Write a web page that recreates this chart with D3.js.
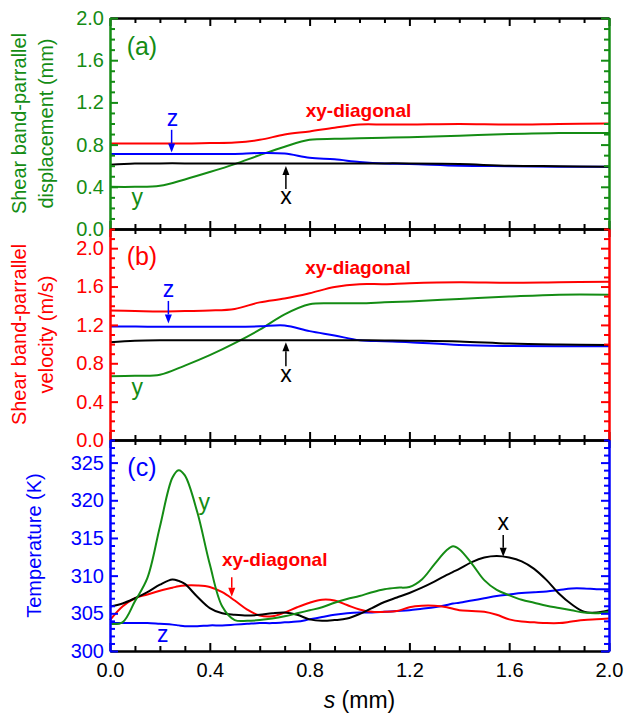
<!DOCTYPE html>
<html>
<head>
<meta charset="utf-8">
<script src="https://cdn.jsdelivr.net/npm/d3@7"></script>
<style>
  body { margin: 0; background: #fff; }
  svg { font-family: 'Liberation Sans', Arial, sans-serif; display: block; }
</style>
</head>
<body>
<div id="chart"></div>
<script>
// -------------------------------------------------------------------------
// Data

// s positions for panels (a) and (b)
const sAB = [0, 0.1, 0.2, 0.3, 0.4, 0.5, 0.6, 0.7, 0.8, 0.9, 1.0, 1.1, 1.2, 1.4, 1.6, 1.8, 2.0];

// (a) shear band-parallel displacement (mm)
const dispX  = [0.61, 0.62, 0.622, 0.622, 0.622, 0.622, 0.622, 0.622, 0.622, 0.622, 0.622, 0.622, 0.622, 0.615, 0.60, 0.595, 0.59];
const dispY  = [0.40, 0.40, 0.41, 0.47, 0.54, 0.615, 0.70, 0.78, 0.845, 0.855, 0.86, 0.865, 0.87, 0.885, 0.90, 0.91, 0.91];
const dispZ  = [0.712, 0.712, 0.712, 0.712, 0.712, 0.712, 0.72, 0.715, 0.675, 0.66, 0.635, 0.62, 0.617, 0.60, 0.595, 0.59, 0.59];
const dispXY = [0.81, 0.81, 0.81, 0.81, 0.815, 0.82, 0.845, 0.895, 0.925, 0.96, 0.99, 0.99, 0.99, 0.995, 0.99, 0.995, 1.0];

// (b) shear band-parallel velocity (m/s)
const velX  = [1.02, 1.035, 1.04, 1.04, 1.04, 1.04, 1.04, 1.04, 1.04, 1.04, 1.04, 1.038, 1.035, 1.027, 1.005, 0.995, 0.99];
const velY  = [0.664, 0.67, 0.68, 0.776, 0.885, 1.01, 1.15, 1.31, 1.415, 1.425, 1.425, 1.435, 1.445, 1.47, 1.495, 1.515, 1.515];
const velZ  = [1.183, 1.183, 1.18, 1.18, 1.18, 1.18, 1.185, 1.195, 1.135, 1.09, 1.04, 1.03, 1.02, 0.99, 0.98, 0.978, 0.978];
const velXY = [1.35, 1.345, 1.34, 1.345, 1.35, 1.367, 1.435, 1.475, 1.53, 1.595, 1.625, 1.625, 1.635, 1.645, 1.64, 1.645, 1.65];

// s positions for panel (c)
const sC = [0, 0.05, 0.1, 0.15, 0.2, 0.25, 0.275, 0.3, 0.35, 0.4, 0.45, 0.5, 0.55, 0.6, 0.65, 0.7,
  0.75, 0.8, 0.85, 0.9, 0.95, 1.0, 1.05, 1.1, 1.15, 1.2, 1.25, 1.3, 1.35, 1.375, 1.4, 1.45, 1.5,
  1.55, 1.6, 1.65, 1.7, 1.75, 1.8, 1.85, 1.9, 1.95, 2.0];

// (c) temperature (K)
const tempX = [305.9, 306.3, 307.0, 307.8, 308.8, 309.5, 309.3, 308.9, 307.2, 305.7, 305.0, 304.8, 304.7, 304.8, 305.0, 305.1,
  304.8, 304.2, 304.0, 304.1, 304.3, 304.9, 305.7, 306.5, 307.1, 307.7, 308.4, 309.2, 310.1, 310.5, 310.9, 311.8, 312.4,
  312.6, 312.4, 311.9, 310.9, 309.4, 307.6, 306.2, 305.2, 305.1, 305.4];
const tempY = [303.6, 303.8, 306.6, 309.7, 316.5, 323.0, 324.0, 323.3, 318.4, 311.5, 305.9, 304.1, 304.0, 304.1, 304.3, 304.6,
  305.0, 305.4, 305.8, 306.4, 306.9, 307.3, 307.8, 308.2, 308.4, 308.5, 309.5, 311.5, 313.4, 313.9, 313.5, 311.6, 309.4,
  308.1, 307.4, 306.8, 306.4, 306.0, 305.7, 305.4, 305.1, 305.0, 305.2];
const tempZ = [303.7, 303.7, 303.7, 303.7, 303.6, 303.5, 303.4, 303.3, 303.3, 303.4, 303.4, 303.5, 303.6, 303.7, 303.7, 303.8,
  303.9, 304.2, 304.5, 304.8, 305.0, 305.1, 305.1, 305.2, 305.3, 305.4, 305.6, 305.8, 306.1, 306.3, 306.4, 306.7, 307.0,
  307.3, 307.5, 307.7, 307.8, 307.9, 308.1, 308.3, 308.3, 308.2, 308.2];
const tempXY = [304.1, 305.9, 307.0, 307.5, 308.0, 308.4, 308.6, 308.7, 308.7, 308.5, 307.8, 306.7, 305.5, 304.7, 304.6, 305.1,
  305.8, 306.4, 306.8, 306.7, 306.1, 305.5, 305.2, 305.2, 305.3, 305.8, 306.0, 306.0, 305.8, 305.6, 305.4, 305.3, 305.2,
  304.8, 304.2, 303.9, 303.8, 303.7, 303.7, 303.9, 304.1, 304.2, 304.3];

// tick labels
const sTicks = [0, 0.4, 0.8, 1.2, 1.6, 2.0];
const dispTicks = [0, 0.4, 0.8, 1.2, 1.6, 2.0];
const velTicks = [0, 0.4, 0.8, 1.2, 1.6, 2.0];
const tempTicks = [300, 305, 310, 315, 320, 325];

// -------------------------------------------------------------------------
// Layout

const width = 625, height = 720;
const plotLeft = 110, plotRight = 609;
const panelTop = 18, panelH = 211;

const GREEN = '#148c14', RED = '#ff0000', BLUE = '#0000ff', BLACK = '#000000';

const svg = d3.select('#chart').append('svg')
  .attr('width', width)
  .attr('height', height);

svg.append('rect').attr('width', width).attr('height', height).attr('fill', '#fff');

const x = d3.scaleLinear().domain([0, 2]).range([plotLeft, plotRight]);

const panels = [
  {
    label: '(a)', color: GREEN, domain: [0, 2], ticks: dispTicks, minorStep: 0.1, fmt: d3.format('.1f'),
    title: ['Shear band-parrallel', 'displacement (mm)'],
    s: sAB,
    series: [
      {v: dispY, color: GREEN}, {v: dispZ, color: BLUE}, {v: dispX, color: BLACK}, {v: dispXY, color: RED}
    ],
    notes: [
      {t: '(a)', s: 0.128, v: 1.652, color: GREEN, size: 25},
      {t: 'z', s: 0.251, v: 0.972, color: BLUE, size: 23},
      {t: 'x', s: 0.705, v: 0.235, color: BLACK, size: 23},
      {t: 'y', s: 0.109, v: 0.228, color: GREEN, size: 23},
      {t: 'xy-diagonal', s: 0.996, v: 1.066, color: RED, size: 19, bold: true}
    ],
    arrows: [
      {s: 0.247, from: 0.94, to: 0.726, color: BLUE},
      {s: 0.705, from: 0.38, to: 0.598, color: BLACK}
    ]
  },
  {
    label: '(b)', color: RED, domain: [0, 2.2], ticks: velTicks, minorStep: 0.1, fmt: d3.format('.1f'),
    title: ['Shear band-parrallel', 'velocity (m/s)'],
    s: sAB,
    series: [
      {v: velY, color: GREEN}, {v: velZ, color: BLUE}, {v: velX, color: BLACK}, {v: velXY, color: RED}
    ],
    notes: [
      {t: '(b)', s: 0.128, v: 1.825, color: RED, size: 25},
      {t: 'z', s: 0.234, v: 1.488, color: BLUE, size: 23},
      {t: 'x', s: 0.705, v: 0.608, color: BLACK, size: 23},
      {t: 'y', s: 0.109, v: 0.469, color: GREEN, size: 23},
      {t: 'xy-diagonal', s: 0.994, v: 1.73, color: RED, size: 19, bold: true}
    ],
    arrows: [
      {s: 0.234, from: 1.45, to: 1.215, color: BLUE},
      {s: 0.705, from: 0.77, to: 1.02, color: BLACK}
    ]
  },
  {
    label: '(c)', color: BLUE, domain: [300, 328], ticks: tempTicks, minorStep: 1, fmt: d3.format('d'),
    title: ['Temperature (K)'],
    s: sC,
    series: [
      {v: tempZ, color: BLUE}, {v: tempXY, color: RED}, {v: tempX, color: BLACK}, {v: tempY, color: GREEN}
    ],
    notes: [
      {t: '(c)', s: 0.128, v: 323.2, color: BLUE, size: 25},
      {t: 'y', s: 0.378, v: 318.7, color: GREEN, size: 23},
      {t: 'xy-diagonal', s: 0.66, v: 311.3, color: RED, size: 19, bold: true},
      {t: 'z', s: 0.211, v: 301.2, color: BLUE, size: 23},
      {t: 'x', s: 1.576, v: 316.0, color: BLACK, size: 23}
    ],
    arrows: [
      {s: 0.488, from: 309.8, to: 307.2, color: RED},
      {s: 1.576, from: 315.4, to: 312.5, color: BLACK}
    ]
  }
];

const sMinor = d3.range(0, 2.0001, 0.1).filter(d => sTicks.every(t => Math.abs(t - d) > 1e-6));

function drawArrow(g, xPos, y0, y1, color) {
  const dir = y1 > y0 ? 1 : -1;
  const headLen = 9, headW = 3.5;
  g.append('line')
    .attr('x1', xPos).attr('x2', xPos)
    .attr('y1', y0).attr('y2', y1 - dir * headLen)
    .attr('stroke', color)
    .attr('stroke-width', 1.5);
  g.append('path')
    .attr('d', `M${xPos},${y1}L${xPos - headW},${y1 - dir * headLen}L${xPos + headW},${y1 - dir * headLen}Z`)
    .attr('fill', color);
}

panels.forEach(function(p, i) {
  const top = panelTop + i * panelH;
  const bottom = top + panelH;
  const y = d3.scaleLinear().domain(p.domain).range([bottom, top]);
  const g = svg.append('g').attr('class', 'panel');

  // curves
  const line = d3.line()
    .x(d => x(d[0]))
    .y(d => y(d[1]))
    .curve(d3.curveCatmullRom.alpha(0.5));

  p.series.forEach(function(ser) {
    g.append('path')
      .datum(p.s.map((s, k) => [s, ser.v[k]]))
      .attr('d', line)
      .attr('fill', 'none')
      .attr('stroke', ser.color)
      .attr('stroke-width', 2);
  });

  // minor ticks on y
  const yMinor = d3.range(p.domain[0], p.domain[1] + 1e-6, p.minorStep)
    .filter(d => p.ticks.every(t => Math.abs(t - d) > 1e-6));

  // top / bottom axes (black)
  const topAxis = svg.append('g').attr('transform', `translate(0,${top})`);
  topAxis.call(d3.axisTop(x).tickValues(sTicks).tickSize(-8).tickSizeOuter(0).tickFormat(''));
  topAxis.append('g').call(d3.axisTop(x).tickValues(sMinor).tickSize(-5).tickSizeOuter(0).tickFormat(''));

  const botAxis = svg.append('g').attr('transform', `translate(0,${bottom})`);
  botAxis.call(d3.axisBottom(x).tickValues(sTicks).tickSize(-8).tickSizeOuter(0).tickPadding(12)
    .tickFormat(i === panels.length - 1 ? d3.format('.1f') : ''));
  botAxis.append('g').call(d3.axisBottom(x).tickValues(sMinor).tickSize(-5).tickSizeOuter(0).tickFormat(''));

  [topAxis, botAxis].forEach(function(a) {
    a.selectAll('path.domain').attr('stroke', BLACK).attr('stroke-width', 2);
    a.selectAll('line').attr('stroke', BLACK).attr('stroke-width', 2);
    a.selectAll('text').attr('fill', BLACK).style('font-size', '20px').style('font-family', null);
  });

  // left / right axes (coloured)
  const leftAxis = svg.append('g').attr('transform', `translate(${plotLeft},0)`);
  leftAxis.call(d3.axisLeft(y).tickValues(p.ticks).tickSize(-8).tickSizeOuter(0).tickPadding(6).tickFormat(p.fmt));
  leftAxis.append('g').call(d3.axisLeft(y).tickValues(yMinor).tickSize(-5).tickSizeOuter(0).tickFormat(''));

  const rightAxis = svg.append('g').attr('transform', `translate(${plotRight},0)`);
  rightAxis.call(d3.axisRight(y).tickValues(p.ticks).tickSize(-8).tickSizeOuter(0).tickFormat(''));
  rightAxis.append('g').call(d3.axisRight(y).tickValues(yMinor).tickSize(-5).tickSizeOuter(0).tickFormat(''));

  [leftAxis, rightAxis].forEach(function(a) {
    a.selectAll('path.domain').attr('stroke', p.color).attr('stroke-width', 2);
    a.selectAll('line').attr('stroke', p.color).attr('stroke-width', 2);
    a.selectAll('text').attr('fill', p.color).style('font-size', '20px').style('font-family', null);
  });
  leftAxis.selectAll('.domain').raise();
  rightAxis.selectAll('.domain').raise();

  // y axis title
  const midY = (top + bottom) / 2;
  const titleX = p.title.length === 2 ? [26, 53] : [41];
  p.title.forEach(function(t, k) {
    svg.append('text')
      .attr('transform', `translate(${titleX[k]},${midY}) rotate(-90)`)
      .attr('text-anchor', 'middle')
      .attr('fill', p.color)
      .style('font-size', '20px')
      .text(t);
  });

  // annotations
  p.notes.forEach(function(n) {
    g.append('text')
      .attr('x', x(n.s))
      .attr('y', y(n.v))
      .attr('text-anchor', 'middle')
      .attr('fill', n.color)
      .style('font-size', `${n.size}px`)
      .style('font-weight', n.bold ? 'bold' : 'normal')
      .text(n.t);
  });
  p.arrows.forEach(function(a) {
    drawArrow(g, x(a.s), y(a.from), y(a.to), a.color);
  });
});

// x axis title
const xTitle = svg.append('text')
  .attr('x', (plotLeft + plotRight) / 2)
  .attr('y', 708)
  .attr('text-anchor', 'middle')
  .style('font-size', '23px');
xTitle.append('tspan').style('font-style', 'italic').text('s');
xTitle.append('tspan').text(' (mm)');
</script>
</body>
</html>
